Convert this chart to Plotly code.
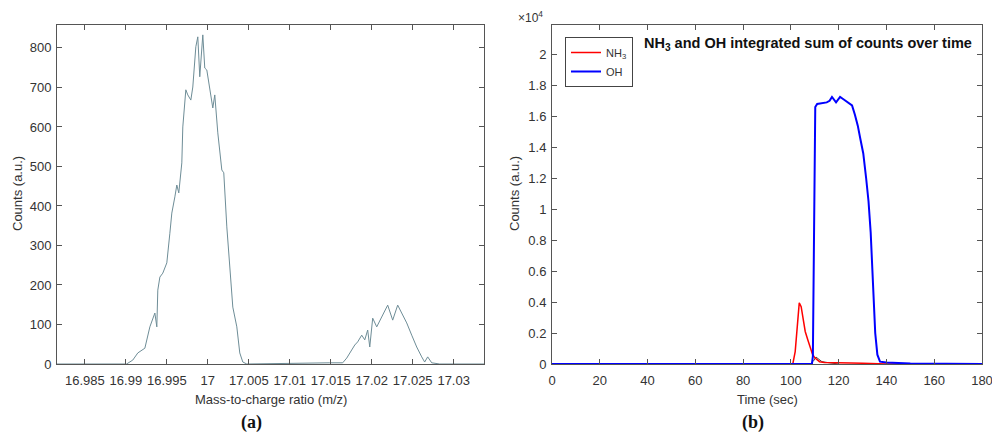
import plotly.graph_objects as go

# ---------- panel (a): mass spectrum ----------
mz = [16.9816, 16.99009, 16.99085, 16.99146, 16.99232, 16.99293, 16.99354, 16.99378, 16.99390,
      16.99415, 16.99451, 16.99500, 16.99537, 16.99561, 16.99598, 16.99622, 16.99646, 16.99683,
      16.99695, 16.99732, 16.99756, 16.99793, 16.99817, 16.99854, 16.99878, 16.99902, 16.99939,
      16.99963, 16.99988, 17.00049, 17.00061, 17.00085, 17.00122, 17.00171, 17.00195, 17.00232,
      17.00280, 17.00305, 17.00354, 17.00390, 17.00427, 17.00476,
      17.01488, 17.01646, 17.01695, 17.01756, 17.01793, 17.01829, 17.01878, 17.01915, 17.01951,
      17.01976, 17.02012, 17.02061, 17.02122, 17.02159, 17.02195, 17.02256, 17.02317, 17.02378,
      17.02427, 17.02488, 17.02549, 17.02610, 17.02646, 17.02683, 17.02732, 17.02829, 17.0337]
counts = [0, 0, 10, 28, 40, 94, 129, 94, 187,
          220, 230, 256, 331, 382, 423, 453, 433, 509,
          600, 694, 681, 668, 701, 803, 828, 727, 833,
          749, 744, 661, 648, 681, 585, 491, 484, 347,
          195, 144, 94, 28, 5, 0,
          3, 3, 15, 35, 48, 56, 73, 61, 86,
          43, 116, 94, 119, 132, 149, 111, 149, 124,
          104, 73, 43, 18, 5, 18, 3, 0, 0]
mz_ticks = [16.985, 16.99, 16.995, 17, 17.005, 17.01, 17.015, 17.02, 17.025, 17.03]
mz_tick_text = ["16.985", "16.99", "16.995", "17", "17.005", "17.01", "17.015", "17.02", "17.025", "17.03"]
counts_ticks = [0, 100, 200, 300, 400, 500, 600, 700, 800]

# ---------- panel (b): integrated counts over time ----------
t_oh = [0, 108.8, 109.2, 109.8, 110.2, 111, 113, 115, 116.2, 117.2, 118.9, 120.6, 122, 124,
        125.6, 126.8, 128, 129, 130.3, 131.5, 132.5, 133.4, 134.4, 135.3, 136.2, 137.3, 140,
        145, 150, 180]
oh = [0, 0, 500, 12000, 16600, 16800, 16850, 16900, 17000, 17250, 16900, 17250, 17100, 16900,
      16700, 16100, 15400, 14600, 13600, 12000, 10500, 8500, 4500, 2000, 600, 150, 100,
      80, 30, 0]
t_nh3 = [0, 100.8, 101.8, 102.6, 103.5, 104.3, 105, 106, 107, 108, 109, 110, 111, 112, 114,
         117, 120, 125, 130, 135, 137, 140, 180]
nh3 = [0, 0, 800, 2400, 3950, 3700, 3000, 2100, 1600, 1100, 650, 400, 250, 150, 100,
       80, 70, 60, 50, 40, 20, 0, 0]
t_other = [108, 109.5, 110.5, 111.5, 113, 116, 120]
other = [0, 200, 450, 350, 150, 80, 0]
time_ticks = [0, 20, 40, 60, 80, 100, 120, 140, 160, 180]
y2_ticks = [0, 2000, 4000, 6000, 8000, 10000, 12000, 14000, 16000, 18000, 20000]
y2_tick_text = ["0", "0.2", "0.4", "0.6", "0.8", "1", "1.2", "1.4", "1.6", "1.8", "2"]

W, H = 992, 441
FONT = "Liberation Sans, Arial, sans-serif"
AX = "#555555"
TXT = "#333333"

def px(x):
    return x / W

def py(y):
    return 1 - y / H

fig = go.Figure()
fig.add_trace(go.Scatter(x=mz, y=counts, mode="lines", line=dict(color="#6e8d97", width=1),
                         showlegend=False, xaxis="x", yaxis="y", hoverinfo="skip"))
fig.add_trace(go.Scatter(x=t_other, y=other, mode="lines", line=dict(color="#444444", width=1),
                         showlegend=False, xaxis="x2", yaxis="y2"))
fig.add_trace(go.Scatter(x=t_nh3, y=nh3, mode="lines", name="NH<sub>3</sub>",
                         line=dict(color="#ff0000", width=1.5), xaxis="x2", yaxis="y2"))
fig.add_trace(go.Scatter(x=t_oh, y=oh, mode="lines", name="OH",
                         line=dict(color="#0000ff", width=2), xaxis="x2", yaxis="y2"))

axis_common = dict(showgrid=False, zeroline=False, showline=True, linecolor=AX, linewidth=1,
                   mirror="ticks", ticks="inside", ticklen=5, tickcolor=AX, automargin=False,
                   ticklabeloverflow="allow",
                   tickfont=dict(family=FONT, size=13, color=TXT))

fig.update_layout(
    width=W, height=H, margin=dict(l=0, r=0, t=0, b=0, autoexpand=False),
    paper_bgcolor="white", plot_bgcolor="white",
    xaxis=dict(domain=[px(57), px(484)], range=[16.9816, 17.0337], tickvals=mz_ticks,
               ticktext=mz_tick_text, anchor="y", ticklabelstandoff=4, **axis_common),
    yaxis=dict(domain=[py(364), py(25)], range=[0, 858], tickvals=counts_ticks, anchor="x",
               ticklabelstandoff=2, **axis_common),
    xaxis2=dict(domain=[px(552), px(982)], range=[-0.0001, 180.0001], tickvals=time_ticks,
                anchor="y2", ticklabelstandoff=4, **axis_common),
    yaxis2=dict(domain=[py(364), py(25)], range=[0, 21900], tickvals=y2_ticks,
                ticktext=y2_tick_text, anchor="x2", ticklabelstandoff=2, **axis_common),
    legend=dict(x=px(565), y=py(37), xanchor="left", yanchor="top", bgcolor="white",
                bordercolor="#444444", borderwidth=1, font=dict(family=FONT, size=11, color=TXT),
                itemwidth=30, tracegroupgap=0),
)

annotations = [
    dict(text="Counts (a.u.)", x=px(17), y=py(194), textangle=-90),
    dict(text="Counts (a.u.)", x=px(514), y=py(194), textangle=-90),
    dict(text="Mass-to-charge ratio (m/z)", x=px(271), y=py(399)),
    dict(text="Time (sec)", x=px(767), y=py(399)),
    dict(text="<b>NH<sub>3</sub> and OH integrated sum of counts over time</b>",
         x=px(808), y=py(44), font=dict(family=FONT, size=14.5, color="#111111")),
    dict(text="×10<sup>4</sup>", x=px(530), y=py(17), font=dict(family=FONT, size=12, color=TXT)),
    dict(text="<b>(a)</b>", x=px(251), y=py(422),
         font=dict(family="Liberation Serif, Times New Roman, serif", size=18, color="#111111")),
    dict(text="<b>(b)</b>", x=px(753), y=py(422),
         font=dict(family="Liberation Serif, Times New Roman, serif", size=18, color="#111111")),
]
for a in annotations:
    a.setdefault("font", dict(family=FONT, size=13, color=TXT))
    fig.add_annotation(xref="paper", yref="paper", showarrow=False, xanchor="center",
                       yanchor="middle", **a)

fig.write_html("out.html")
